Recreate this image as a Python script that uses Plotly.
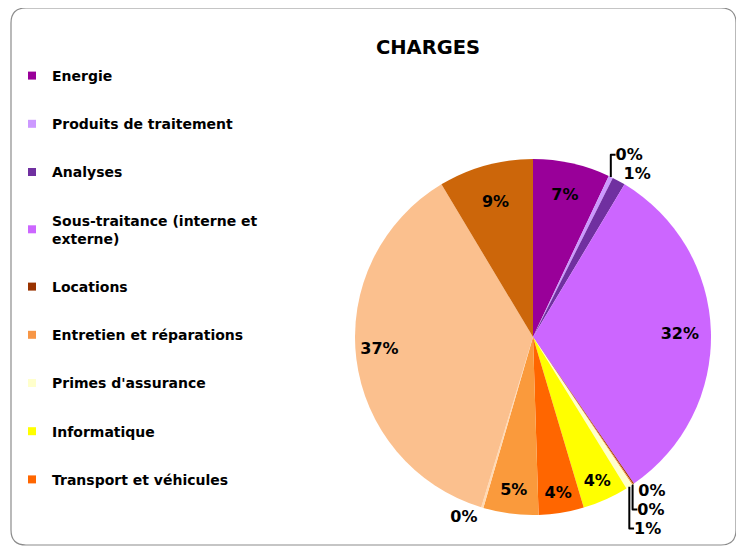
import plotly.graph_objects as go

# slices in clockwise order from 12 o'clock (only the first 9 appear in the legend)
labels = ["Energie", "Produits de traitement", "Analyses",
          "Sous-traitance (interne et<br>externe)", "Locations",
          "Entretien et réparations", "Primes d'assurance", "Informatique",
          "Transport et véhicules", "Charge 10", "Charge 11", "Charge 12", "Charge 13"]
values = [7.0, 0.4, 1.2, 31.8, 0.1, 0.1, 0.6, 4.2, 4.1, 5.0, 0.2, 36.7, 8.6]
colors = ["#990099", "#CC99FF", "#7030A0", "#CC66FF", "#993300", "#F79646",
          "#FFFFCC", "#FFFF00", "#FF6600", "#FA9A3C", "#FFD9B3", "#FBC08E", "#CC660A"]
n_legend = 9

W, H = 744, 547
OFF = 8  # page body margin of the html output
FONT = "DejaVu Sans"


def px(x):
    return (x - OFF) / W


def py(y):
    return 1 - (y - OFF) / H


positions = ["inside" if v >= 3 else "outside" for v in values]
# Excel puts the labels of the two big slices closer to the rim: pad them
NB = "\u00a0"
templates = []
for i, v in enumerate(values):
    t = "%{percent:.0%}"
    if i == 3:
        t = NB * 18 + t
    elif i == 11:
        t = t + NB * 22
    templates.append(t)

fig = go.Figure()
fig.add_trace(go.Pie(
    labels=labels, values=values, sort=False, direction="clockwise", rotation=0,
    marker=dict(colors=colors, line=dict(width=0)),
    texttemplate=templates, textposition=positions,
    insidetextorientation="horizontal",
    textfont=dict(family=FONT, size=16, color="black", weight="bold"),
    domain=dict(x=[px(533 - 178), px(533 + 178)], y=[py(337 + 178), py(337 - 178)]),
    showlegend=False, hoverinfo="label+percent",
))

# legend entries (Excel shows only the first 9 categories)
for name, col in zip(labels[:n_legend], colors[:n_legend]):
    fig.add_trace(go.Scatter(
        x=[None], y=[None], mode="markers", name=name, legendgroup=name,
        marker=dict(symbol="square", size=8, color=col),
    ))

# rounded chart-area border
rx, ry = 15 / W, 15 / H
x0, x1 = px(11), px(736)
y0, y1 = py(545), py(8)
path = (f"M {x0 + rx},{y1} L {x1 - rx},{y1} Q {x1},{y1} {x1},{y1 - ry} "
        f"L {x1},{y0 + ry} Q {x1},{y0} {x1 - rx},{y0} "
        f"L {x0 + rx},{y0} Q {x0},{y0} {x0},{y0 + ry} "
        f"L {x0},{y1 - ry} Q {x0},{y1} {x0 + rx},{y1} Z")

fig.update_layout(
    width=W, height=H,
    margin=dict(l=0, r=0, t=0, b=0),
    paper_bgcolor="white", plot_bgcolor="white",
    title=dict(text="CHARGES", x=px(428), xanchor="center", y=py(47), yanchor="middle",
               font=dict(family=FONT, size=19.5, color="black", weight="bold")),
    xaxis=dict(visible=False), yaxis=dict(visible=False),
    legend=dict(x=px(12), xanchor="left", y=py(60), yanchor="top",
                traceorder="grouped", tracegroupgap=27,
                font=dict(family=FONT, size=14, color="black", weight="bold"),
                bgcolor="rgba(0,0,0,0)", itemclick=False),
    shapes=[dict(type="path", path=path, xref="paper", yref="paper",
                 line=dict(color="#8C8C8C", width=1.2), layer="below")],
)

fig.write_html("out.html")
